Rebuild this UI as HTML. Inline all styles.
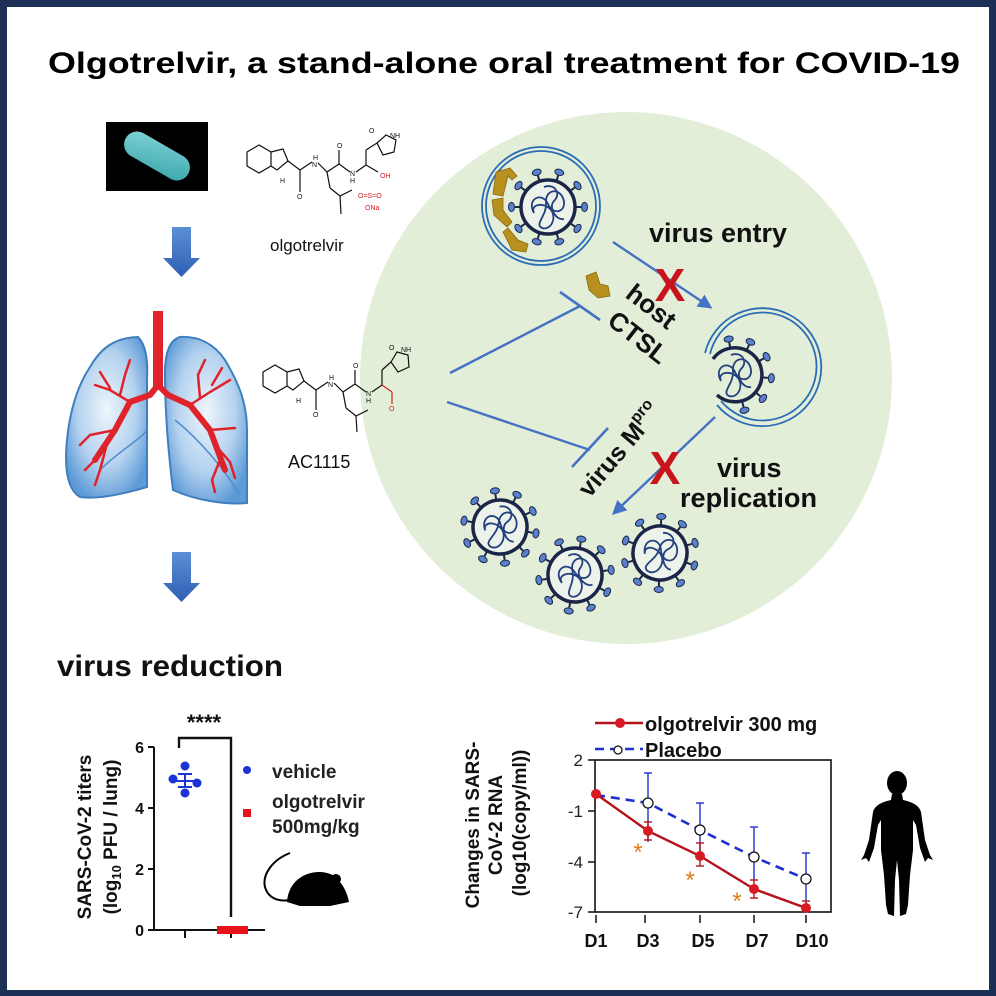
<!DOCTYPE html>
<html><head><meta charset="utf-8"><style>
html,body{margin:0;padding:0;background:#fff}
svg{display:block}
text{font-family:"Liberation Sans",Arial,sans-serif}
</style></head><body>
<svg width="996" height="996" viewBox="0 0 996 996" xmlns="http://www.w3.org/2000/svg">
<defs>
<linearGradient id="ar" x1="0" y1="0" x2="0" y2="1"><stop offset="0" stop-color="#5b8fd6"/><stop offset="1" stop-color="#2e5fb3"/></linearGradient>
<radialGradient id="lg" cx="0.5" cy="0.45" r="0.6"><stop offset="0" stop-color="#eef5fc"/><stop offset="0.6" stop-color="#b4d2ef"/><stop offset="1" stop-color="#5d9ad6"/></radialGradient>
<linearGradient id="pill" x1="0" y1="0" x2="1" y2="1"><stop offset="0" stop-color="#7fd3d6"/><stop offset="1" stop-color="#3aa6ad"/></linearGradient>
<g id="spk"><line x1="27" y1="0" x2="33" y2="0" stroke="#1a2547" stroke-width="2"/><ellipse cx="36.5" cy="0" rx="3" ry="4.6" fill="#5a82cc" stroke="#1a2547" stroke-width="1"/></g>
<g id="inner" fill="none" stroke="#23407e" stroke-width="1.8">
<path d="M-14,6 C-22,-8 -6,-16 0,-3 C6,10 20,4 15,-9 C10,-20 -3,-17 -2,-4 C-1,9 -14,17 -6,21 C4,24 10,8 1,1 C-6,-5 -18,-2 -14,6 Z"/>
<path d="M-4,-20 C6,-24 14,-14 6,-6 C0,0 8,14 16,12"/>
</g>
<g id="vir">
<use href="#spk" transform="rotate(0)"/><use href="#spk" transform="rotate(36)"/><use href="#spk" transform="rotate(72)"/><use href="#spk" transform="rotate(108)"/><use href="#spk" transform="rotate(144)"/><use href="#spk" transform="rotate(180)"/><use href="#spk" transform="rotate(216)"/><use href="#spk" transform="rotate(252)"/><use href="#spk" transform="rotate(288)"/><use href="#spk" transform="rotate(324)"/>
<circle r="27" fill="#edf3ea" stroke="#1a2547" stroke-width="3.5"/>
<use href="#inner"/>
</g>
<marker id="ah" viewBox="0 0 10 10" refX="8" refY="5" markerWidth="6" markerHeight="6" orient="auto"><path d="M0,0 L10,5 L0,10 Z" fill="#4472c4"/></marker>
</defs>

<rect x="0" y="0" width="996" height="996" fill="#1c2f55"/>
<rect x="7" y="7" width="982" height="983" fill="#fff"/>

<text x="48" y="73" font-size="30" font-weight="bold" textLength="912" lengthAdjust="spacingAndGlyphs">Olgotrelvir, a stand-alone oral treatment for COVID-19</text>

<!-- green circle -->
<circle cx="626" cy="378" r="266" fill="#e3eed9"/>

<!-- pill -->
<rect x="106" y="122" width="102" height="69" fill="#000"/>
<rect x="121" y="143" width="72" height="26" rx="13" fill="url(#pill)" transform="rotate(30 157 156)"/>

<!-- down arrows -->
<path d="M172,227 H191 V258 H200 L181.5,277 L163,258 H172 Z" fill="url(#ar)"/>
<path d="M172,552 H191 V583 H200 L181.5,602 L163,583 H172 Z" fill="url(#ar)"/>

<!-- lungs -->
<path d="M138,337 C146,345 148,360 147,380 L147,487 C130,492 100,500 80,497 C68,490 64,470 67,440 C70,410 78,385 90,367 C100,350 112,338 138,337 Z" fill="url(#lg)" stroke="#3f7fc0" stroke-width="2"/>
<path d="M180,337 C200,336 215,345 225,360 C240,385 247,405 247,430 L247,503 C225,505 195,500 173,490 C168,450 165,410 165,373 C165,352 170,340 180,337 Z" fill="url(#lg)" stroke="#3f7fc0" stroke-width="2"/>
<path d="M100,470 C120,450 140,440 147,430" stroke="#4f8ccc" stroke-width="1.5" fill="none"/>
<path d="M175,420 C200,440 225,470 240,495" stroke="#4f8ccc" stroke-width="1.5" fill="none"/>
<rect x="153" y="311" width="10" height="76" fill="#e0222b"/>
<g fill="none" stroke="#e0222b" stroke-linecap="round">
<path d="M158,385 L150,395 L130,402 L115,430 L95,460" stroke-width="6"/>
<path d="M158,385 L168,395 L190,405 L210,430 L225,470" stroke-width="6"/>
<g stroke-width="2.5">
<path d="M130,402 L110,390 L95,385"/><path d="M120,395 L125,375 L130,360"/><path d="M115,430 L90,435 L80,445"/><path d="M108,440 L100,470 L95,485"/><path d="M95,460 L85,470"/><path d="M110,388 L100,372"/>
<path d="M190,405 L210,392 L230,380"/><path d="M200,398 L198,375 L205,360"/><path d="M210,430 L235,428"/><path d="M215,445 L230,462 L235,478"/><path d="M220,460 L212,480 L215,492"/><path d="M212,385 L222,368"/>
</g></g>

<!-- olgotrelvir structure -->
<g fill="none" stroke="#111" stroke-width="1.2">
<polygon points="247,152 259,145 271,152 271,166 259,173 247,166"/>
<polyline points="271,152 283,149 288,161 277,170 271,166"/>
<line x1="288" y1="161" x2="300" y2="170"/>
<line x1="300" y1="170" x2="300" y2="192"/>
<line x1="300" y1="170" x2="312" y2="162"/>
<line x1="318" y1="163" x2="327" y2="172"/>
<line x1="327" y1="172" x2="339" y2="164"/>
<line x1="339" y1="164" x2="339" y2="150"/>
<line x1="327" y1="172" x2="330" y2="188"/><polyline points="330,188 340,196 352,190"/><line x1="340" y1="196" x2="341" y2="214"/>
<line x1="339" y1="164" x2="350" y2="172"/>
<line x1="356" y1="172" x2="366" y2="165"/>
<line x1="366" y1="165" x2="366" y2="150"/><line x1="366" y1="150" x2="377" y2="143"/>
<polygon points="377,143 386,135 396,140 394,152 383,155"/>
<line x1="366" y1="165" x2="378" y2="172"/>
</g>
<g font-size="7" fill="#111"><text x="280" y="183">H</text><text x="312" y="167">N</text><text x="313" y="160">H</text><text x="350" y="176">N</text><text x="350" y="183">H</text><text x="337" y="148">O</text><text x="297" y="199">O</text><text x="369" y="133">O</text><text x="390" y="138">NH</text></g>
<g font-size="7" fill="#d62020"><text x="380" y="178">OH</text><text x="358" y="198">O=S=O</text><text x="365" y="210">ONa</text></g>
<text x="270" y="251" font-size="17" fill="#111">olgotrelvir</text>

<!-- AC1115 structure -->
<g fill="none" stroke="#111" stroke-width="1.2">
<polygon points="263,372 275,365 287,372 287,386 275,393 263,386"/>
<polyline points="287,372 299,369 304,381 293,390 287,386"/>
<line x1="304" y1="381" x2="316" y2="390"/>
<line x1="316" y1="390" x2="316" y2="410"/>
<line x1="316" y1="390" x2="328" y2="382"/>
<line x1="334" y1="383" x2="343" y2="392"/>
<line x1="343" y1="392" x2="355" y2="384"/><line x1="355" y1="384" x2="355" y2="370"/>
<line x1="343" y1="392" x2="346" y2="408"/><polyline points="346,408 356,416 368,410"/><line x1="356" y1="416" x2="357" y2="432"/>
<line x1="355" y1="384" x2="366" y2="392"/>
<line x1="372" y1="392" x2="382" y2="385"/>
<line x1="382" y1="385" x2="382" y2="370"/><line x1="382" y1="370" x2="391" y2="362"/>
<polygon points="391,362 397,352 408,355 409,367 398,372"/>
</g>
<line x1="382" y1="385" x2="392" y2="392" stroke="#d62020" stroke-width="1.2"/><line x1="392" y1="392" x2="392" y2="404" stroke="#d62020" stroke-width="1.2"/>
<g font-size="7" fill="#111"><text x="296" y="403">H</text><text x="328" y="387">N</text><text x="329" y="380">H</text><text x="366" y="396">N</text><text x="366" y="403">H</text><text x="353" y="368">O</text><text x="313" y="417">O</text><text x="389" y="350">O</text><text x="401" y="352">NH</text></g>
<text x="389" y="411" font-size="7" fill="#d62020">O</text>
<text x="288" y="468" font-size="18" fill="#111">AC1115</text>

<!-- top virus with ring -->
<circle cx="541" cy="206" r="59" fill="none" stroke="#2a6db5" stroke-width="1.8"/>
<circle cx="541" cy="206" r="55" fill="none" stroke="#2a6db5" stroke-width="1.8"/>
<g fill="#b8901f" stroke="#8a6a10" stroke-width="0.8">
<path d="M496,172 L510,168 L517,176 L512,180 L508,176 L503,196 L493,194 Z"/>
<path d="M492,200 L503,198 L503,210 L512,222 L507,227 L494,215 Z"/>
<path d="M503,232 L508,228 L518,240 L528,244 L526,252 L512,250 Z"/>
</g>
<use href="#vir" transform="translate(548,207)"/>

<!-- arrows and inhibitors -->
<line x1="613" y1="242" x2="710" y2="307" stroke="#4472c4" stroke-width="2.4" marker-end="url(#ah)"/>
<line x1="715" y1="417" x2="614" y2="513" stroke="#4472c4" stroke-width="2.4" marker-end="url(#ah)"/>
<line x1="450" y1="373" x2="580" y2="306" stroke="#4472c4" stroke-width="2.4"/>
<line x1="560" y1="292" x2="600" y2="320" stroke="#4472c4" stroke-width="2.6"/>
<line x1="447" y1="402" x2="590" y2="450" stroke="#4472c4" stroke-width="2.4"/>
<line x1="572" y1="467" x2="608" y2="428" stroke="#4472c4" stroke-width="2.6"/>

<!-- red X -->
<text x="670" y="301" font-size="46" font-weight="bold" fill="#c8141c" text-anchor="middle">X</text>
<text x="665" y="484" font-size="46" font-weight="bold" fill="#c8141c" text-anchor="middle">X</text>

<!-- CTSL piece -->
<path d="M586,276 L596,272 L600,284 L608,286 L610,296 L598,298 L589,290 Z" fill="#b8901f" stroke="#8a6a10" stroke-width="0.8"/>

<!-- labels in circle -->
<text x="649" y="242" font-size="27" font-weight="bold" fill="#111" textLength="138" lengthAdjust="spacingAndGlyphs">virus entry</text>
<text transform="translate(650,308) rotate(38)" font-size="26" font-weight="bold" fill="#111" text-anchor="middle" dominant-baseline="middle">host</text>
<text transform="translate(637,339) rotate(38)" font-size="26" font-weight="bold" fill="#111" text-anchor="middle" dominant-baseline="middle">CTSL</text>
<text transform="translate(621,451) rotate(-50)" font-size="25" font-weight="bold" fill="#111" text-anchor="middle" dominant-baseline="middle">virus M<tspan font-size="16" dy="-9">pro</tspan></text>
<text x="717" y="477" font-size="27" font-weight="bold" fill="#111">virus</text>
<text x="680" y="507" font-size="27" font-weight="bold" fill="#111" textLength="137" lengthAdjust="spacingAndGlyphs">replication</text>

<!-- middle virus in cup -->
<path d="M705,353 A59,59 0 1 1 717,405" fill="none" stroke="#2a6db5" stroke-width="1.8"/>
<path d="M710,354 A54,54 0 1 1 721,401" fill="none" stroke="#2a6db5" stroke-width="1.8"/>
<g transform="translate(735,375)">
<use href="#spk" transform="rotate(-100)"/><use href="#spk" transform="rotate(-65)"/><use href="#spk" transform="rotate(-30)"/><use href="#spk" transform="rotate(5)"/><use href="#spk" transform="rotate(40)"/><use href="#spk" transform="rotate(75)"/>
<path d="M-22,-16 A27,27 0 1 1 -18,20" fill="none" stroke="#1a2547" stroke-width="3.5"/>
<use href="#inner"/>
</g>

<!-- bottom viruses -->
<use href="#vir" transform="translate(500,527) rotate(10)"/>
<use href="#vir" transform="translate(575,575) rotate(-8)"/>
<use href="#vir" transform="translate(660,553) rotate(20)"/>

<!-- virus reduction -->
<text x="57" y="676" font-size="30" font-weight="bold" fill="#111" textLength="226" lengthAdjust="spacingAndGlyphs">virus reduction</text>

<!-- chart 1 -->
<text x="204" y="730" font-size="22" font-weight="bold" fill="#111" text-anchor="middle">****</text>
<polyline points="179,748 179,738 231,738 231,917" fill="none" stroke="#111" stroke-width="2.4"/>
<g stroke="#111" stroke-width="2" fill="none">
<line x1="154" y1="747" x2="154" y2="930"/><line x1="154" y1="930" x2="265" y2="930"/>
<line x1="148" y1="747" x2="154" y2="747"/><line x1="148" y1="808" x2="154" y2="808"/><line x1="148" y1="869" x2="154" y2="869"/><line x1="148" y1="930" x2="154" y2="930"/>
<line x1="185" y1="930" x2="185" y2="938"/><line x1="231" y1="930" x2="231" y2="938"/>
</g>
<g font-size="16" font-weight="bold" fill="#111" text-anchor="end"><text x="144" y="753">6</text><text x="144" y="814">4</text><text x="144" y="875">2</text><text x="144" y="936">0</text></g>
<g fill="#1e33d6"><circle cx="185" cy="766" r="4.5"/><circle cx="173" cy="779" r="4.5"/><circle cx="197" cy="783" r="4.5"/><circle cx="185" cy="793" r="4.5"/></g>
<g stroke="#1e33d6" stroke-width="2"><line x1="185" y1="774" x2="185" y2="787"/><line x1="178" y1="774" x2="192" y2="774"/><line x1="175" y1="781" x2="195" y2="781"/><line x1="178" y1="787" x2="192" y2="787"/></g>
<rect x="217" y="926" width="31" height="8" fill="#e8141c"/>
<circle cx="247" cy="770" r="4" fill="#1e33d6"/>
<rect x="243" y="809" width="8" height="8" fill="#e8141c"/>
<g font-size="19" font-weight="bold" fill="#222"><text x="272" y="778">vehicle</text><text x="272" y="808">olgotrelvir</text><text x="272" y="833">500mg/kg</text></g>
<text transform="translate(91,837) rotate(-90)" font-size="19" font-weight="bold" fill="#111" text-anchor="middle">SARS-CoV-2 titers</text>
<text transform="translate(117,837) rotate(-90)" font-size="19" font-weight="bold" fill="#111" text-anchor="middle">(log<tspan font-size="13" dy="4">10</tspan><tspan dy="-4"> PFU / lung)</tspan></text>
<!-- mouse -->
<path d="M290,853 C272,860 262,875 265,887 C268,898 278,902 290,900" fill="none" stroke="#000" stroke-width="2"/>
<path d="M287,902 C288,885 300,873 318,872 C330,872 336,876 340,882 C345,888 348,896 349,902 L330,906 L300,906 Z" fill="#000"/>
<circle cx="336" cy="879" r="5" fill="#000"/>

<!-- chart 2 -->
<g font-size="19" font-weight="bold" fill="#111" text-anchor="middle">
<text transform="translate(479,825) rotate(-90)">Changes in SARS-</text>
<text transform="translate(502,825) rotate(-90)">CoV-2 RNA</text>
<text transform="translate(526,823) rotate(-90)">(log10(copy/ml))</text>
</g>
<rect x="595" y="760" width="236" height="152" fill="none" stroke="#111" stroke-width="1.6"/>
<g stroke="#111" stroke-width="1.5"><line x1="588" y1="760" x2="595" y2="760"/><line x1="588" y1="811" x2="595" y2="811"/><line x1="588" y1="862" x2="595" y2="862"/><line x1="588" y1="912" x2="595" y2="912"/>
<line x1="596" y1="915" x2="596" y2="923"/><line x1="645" y1="915" x2="645" y2="923"/><line x1="700" y1="915" x2="700" y2="923"/><line x1="754" y1="915" x2="754" y2="923"/><line x1="806" y1="915" x2="806" y2="923"/></g>
<g font-size="17" fill="#222" text-anchor="end"><text x="583" y="766">2</text><text x="583" y="817">-1</text><text x="583" y="868">-4</text><text x="583" y="918">-7</text></g>
<g font-size="18" font-weight="bold" fill="#111" text-anchor="middle"><text x="596" y="947">D1</text><text x="648" y="947">D3</text><text x="703" y="947">D5</text><text x="757" y="947">D7</text><text x="812" y="947">D10</text></g>
<!-- blue error bars -->
<g stroke="#1e2fd0" stroke-width="1.4"><line x1="648" y1="773" x2="648" y2="842"/><line x1="644" y1="773" x2="652" y2="773"/>
<line x1="700" y1="803" x2="700" y2="860"/><line x1="696" y1="803" x2="704" y2="803"/>
<line x1="754" y1="827" x2="754" y2="881"/><line x1="750" y1="827" x2="758" y2="827"/>
<line x1="806" y1="853" x2="806" y2="907"/><line x1="802" y1="853" x2="810" y2="853"/></g>
<polyline points="596,795 648,803 700,830 754,857 806,879" fill="none" stroke="#1e2fd0" stroke-width="2.6" stroke-dasharray="9,6"/>
<!-- red -->
<g stroke="#b5121b" stroke-width="1.4"><line x1="648" y1="822" x2="648" y2="840"/><line x1="644" y1="822" x2="652" y2="822"/><line x1="644" y1="840" x2="652" y2="840"/>
<line x1="700" y1="843" x2="700" y2="866"/><line x1="696" y1="843" x2="704" y2="843"/><line x1="696" y1="866" x2="704" y2="866"/>
<line x1="754" y1="880" x2="754" y2="898"/><line x1="750" y1="880" x2="758" y2="880"/><line x1="750" y1="898" x2="758" y2="898"/>
<line x1="806" y1="901" x2="806" y2="911"/><line x1="802" y1="901" x2="810" y2="901"/></g>
<polyline points="596,794 648,831 700,856 754,889 806,908" fill="none" stroke="#b5121b" stroke-width="2.4"/>
<g fill="#d81a24"><circle cx="596" cy="794" r="5"/><circle cx="648" cy="831" r="5"/><circle cx="700" cy="856" r="5"/><circle cx="754" cy="889" r="5"/><circle cx="806" cy="908" r="5"/></g>
<g fill="#fff" stroke="#111" stroke-width="1.3"><circle cx="648" cy="803" r="5"/><circle cx="700" cy="830" r="5"/><circle cx="754" cy="857" r="5"/><circle cx="806" cy="879" r="5"/></g>
<g font-size="24" fill="#e07a1a" text-anchor="middle"><text x="638" y="860">*</text><text x="690" y="888">*</text><text x="737" y="909">*</text></g>
<!-- legend -->
<line x1="595" y1="723" x2="643" y2="723" stroke="#b5121b" stroke-width="2.4"/><circle cx="620" cy="723" r="5" fill="#d81a24"/>
<text x="645" y="731" font-size="20" font-weight="bold" fill="#111">olgotrelvir 300 mg</text>
<line x1="595" y1="749" x2="643" y2="749" stroke="#1e2fd0" stroke-width="2.6" stroke-dasharray="9,6"/><circle cx="618" cy="750" r="4" fill="#fff" stroke="#111" stroke-width="1.3"/>
<text x="645" y="757" font-size="20" font-weight="bold" fill="#111">Placebo</text>

<!-- human -->
<g fill="#000">
<ellipse cx="897" cy="783" rx="10" ry="12"/>
<path d="M892,794 L902,794 L903,800 C912,802 919,805 921,812 L925,840 L930,855 L933,860 L928,858 L925,862 L920,848 L916,825 L913,820 L913,850 L910,875 L908,905 L906,914 L900,916 L899,880 L897,860 L895,880 L894,916 L888,914 L886,905 L884,875 L881,850 L881,820 L878,825 L874,848 L869,862 L866,858 L861,860 L864,855 L869,840 L873,812 C875,805 882,802 891,800 Z"/>
</g>
</svg>
</body></html>
